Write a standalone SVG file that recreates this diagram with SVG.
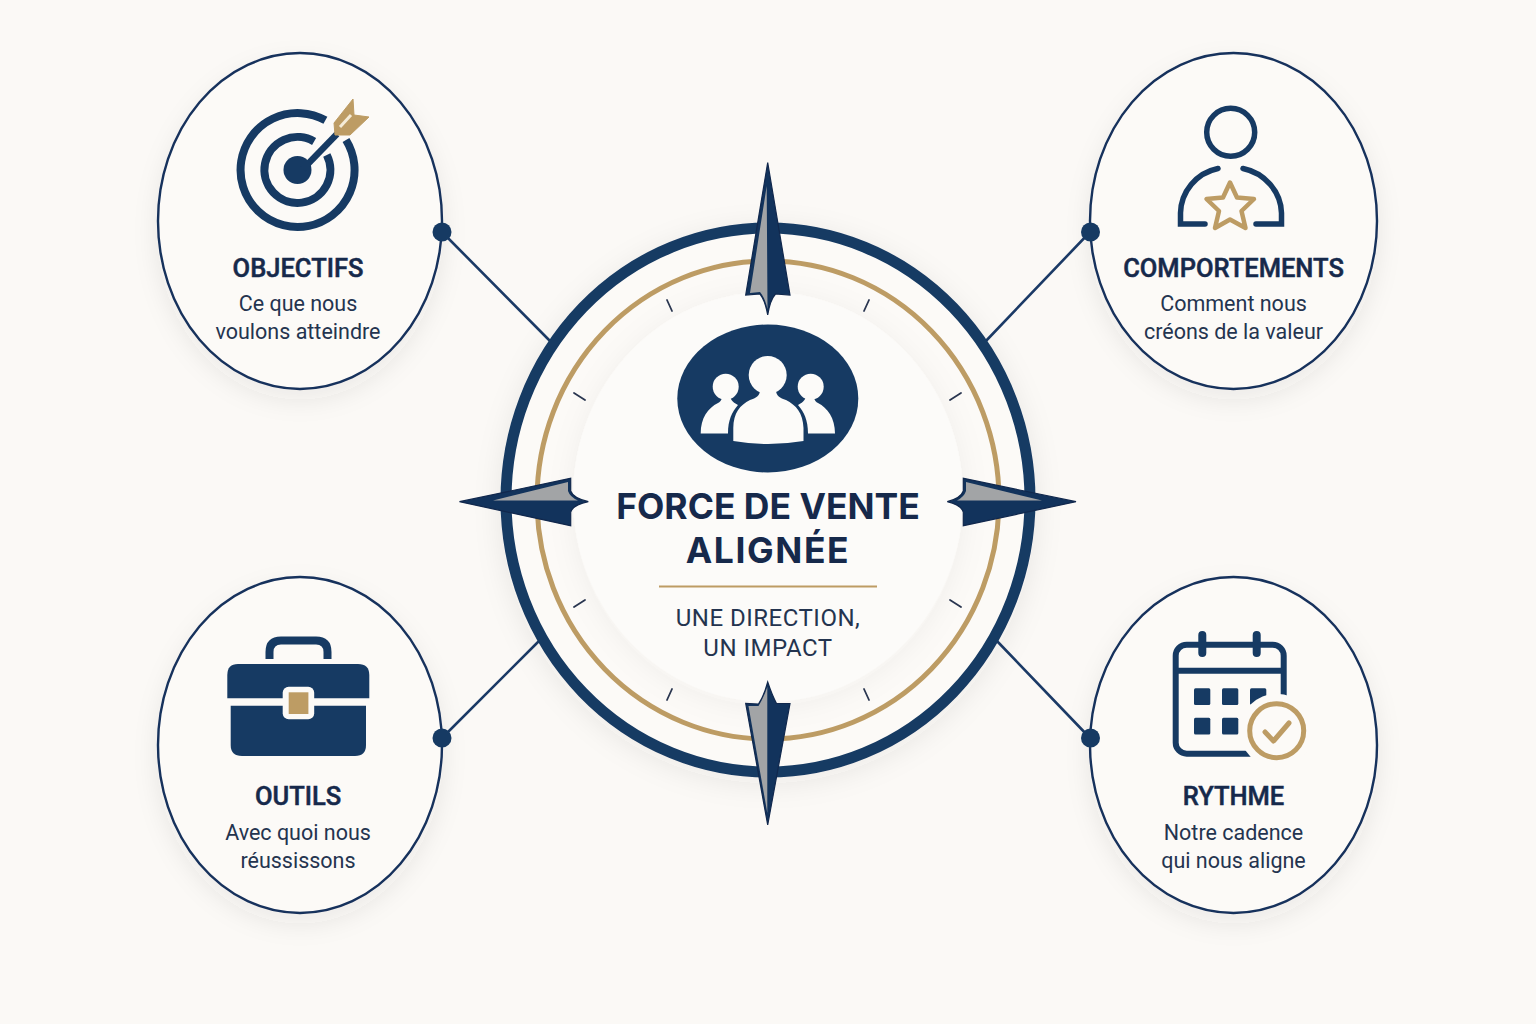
<svg xmlns="http://www.w3.org/2000/svg" width="1536" height="1024" viewBox="0 0 1536 1024">
<style>
text{font-family:Roboto,"Liberation Sans",sans-serif;text-anchor:middle}
.bub{fill:#fcfaf7;stroke:#16305c;stroke-width:2.4;filter:url(#sh)}
.t{font-size:25.5px;font-weight:500;fill:#16294b;stroke:#16294b;stroke-width:.5}
.s{font-size:21.5px;fill:#24344f}
.h{font-family:Inter,Roboto,sans-serif;font-size:35.500px;font-weight:700;fill:#16294b}
.u{font-size:24px;letter-spacing:.5px;fill:#24344f}
.nl{fill:none;stroke:#163a63}
.nf{fill:#163a63}
.go{fill:none;stroke:#bd9c64}
.tick{stroke:#2a3650;stroke-width:1.8;stroke-linecap:round}
.cn{stroke:#1b3a66;stroke-width:2.6;fill:none}
.dot{fill:#163a63}
.dk{fill:#12335c;stroke:#11284d;stroke-width:1.2;stroke-linejoin:miter}
.gr{fill:#a2a4a6}
</style>
<defs>
<filter id="sh" x="-30%" y="-30%" width="160%" height="160%"><feDropShadow dx="0" dy="10" stdDeviation="12" flood-color="#3a3a3a" flood-opacity=".08"/></filter>
<filter id="sh2" x="-30%" y="-30%" width="160%" height="160%"><feDropShadow dx="0" dy="6" stdDeviation="14" flood-color="#3a3a3a" flood-opacity=".08"/></filter>
<filter id="sh3" x="-30%" y="-30%" width="160%" height="160%"><feDropShadow dx="0" dy="4" stdDeviation="14" flood-color="#3a3a3a" flood-opacity=".05"/></filter>
</defs>
<rect width="1536" height="1024" fill="#fbf9f6"/>
<g id="node-objectifs">
<ellipse class="bub" cx="300" cy="221" rx="142" ry="168"/>
<path class="nl" stroke-width="8" d="M325.400 120.300A57 57 0 1 0 346 140"/>
<path class="nl" stroke-width="8" d="M314.100 141.500A33 33 0 1 0 326.800 155"/>
<circle class="nf" cx="297.500" cy="170" r="14"/>
<path d="M303 169L337 134" stroke="#163a63" stroke-width="6.500" fill="none"/>
<path d="M334 123L353 99L354 115L369 117L350 135L335 135Z" fill="#bd9c64" stroke="#bd9c64" stroke-linejoin="round"/>
<path d="M340 127L351 115" stroke="#f5ecd8" stroke-width="3" fill="none"/>
<text class="t" x="298" y="277">OBJECTIFS</text>
<text class="s" x="298" y="311">Ce que nous</text>
<text class="s" x="298" y="339">voulons atteindre</text>
</g>
<g id="node-comportements">
<ellipse class="bub" cx="1233.500" cy="221" rx="143.500" ry="168"/>
<circle class="nl" cx="1230.700" cy="132.300" r="24" stroke-width="5.500"/>
<path class="nl" stroke-width="5.500" stroke-linecap="round" d="M1218 168.500C1196 173 1181 192 1180.500 213V224H1205M1243 168.500C1265 173 1281 192 1281.500 213V224H1256"/>
<path class="go" stroke-width="4.500" stroke-linejoin="round" d="M1230 182.500L1237 197.500L1254 199L1241.500 211L1245.500 228L1230 219.500L1215 228L1219 211L1206.500 199L1223 197.500Z"/>
<text class="t" x="1233.500" y="277">COMPORTEMENTS</text>
<text class="s" x="1233.500" y="311">Comment nous</text>
<text class="s" x="1233.500" y="339">créons de la valeur</text>
</g>
<g id="node-outils">
<ellipse class="bub" cx="300" cy="745" rx="142" ry="168"/>
<path class="nl" stroke-width="8" d="M269.500 659V652Q269.500 640.500 281 640.500H316Q327.500 640.500 327.500 652V659"/>
<path class="nf" d="M227.300 698.300V675Q227.300 664 238 664H358Q369.300 664 369.300 675V698.300Z"/>
<path class="nf" d="M230.700 705.700H366V745Q366 756 355 756H242Q230.700 756 230.700 745Z"/>
<rect x="282.700" y="686.700" width="31.500" height="32.500" rx="6" fill="#fcfaf7"/>
<rect x="288.700" y="692.300" width="19.700" height="21.700" fill="#bd9c64"/>
<text class="t" x="298" y="805">OUTILS</text>
<text class="s" x="298" y="840">Avec quoi nous</text>
<text class="s" x="298" y="868">réussissons</text>
</g>
<g id="node-rythme">
<ellipse class="bub" cx="1233.500" cy="745" rx="143.500" ry="168"/>
<rect class="nl" x="1175.700" y="644.700" width="108" height="109" rx="11" stroke-width="6"/>
<path class="nl" stroke-width="6" d="M1175.700 670.700H1283.700"/>
<path class="nl" stroke-width="8" stroke-linecap="round" d="M1202.300 635V653M1256.700 635V653"/>
<g class="nf">
<rect x="1194" y="688.300" width="16.300" height="16.700" rx="1.500"/><rect x="1222" y="688.300" width="16.300" height="16.700" rx="1.500"/><rect x="1250" y="688.300" width="16.300" height="16.700" rx="1.500"/>
<rect x="1194" y="717.700" width="16.300" height="16.700" rx="1.500"/><rect x="1222" y="717.700" width="16.300" height="16.700" rx="1.500"/>
</g>
<circle cx="1276.700" cy="730.700" r="37" fill="#fcfaf7"/>
<circle class="go" cx="1276.700" cy="730.700" r="27" stroke-width="5"/>
<path class="go" stroke-width="5" stroke-linecap="round" stroke-linejoin="round" d="M1265 732L1273.500 741L1289 723"/>
<text class="t" x="1233.500" y="805">RYTHME</text>
<text class="s" x="1233.500" y="840">Notre cadence</text>
<text class="s" x="1233.500" y="868">qui nous aligne</text>
</g>
<g id="connectors">
<path class="cn" d="M442 232L552 343M1090 232L984 343M442 738L542 638M1090 738L996 640"/>
<circle class="dot" cx="442" cy="232" r="9.500"/><circle class="dot" cx="1090.500" cy="232" r="9.500"/>
<circle class="dot" cx="442" cy="738" r="9.500"/><circle class="dot" cx="1090.500" cy="738" r="9.500"/>
</g>
<g id="node-center">
<ellipse cx="768" cy="500" rx="262" ry="272" fill="#fcfaf7" stroke="#163a63" stroke-width="11" filter="url(#sh2)"/>
<ellipse class="go" cx="768" cy="500" rx="231" ry="239" stroke-width="5"/>
<ellipse cx="768" cy="497" rx="195" ry="205" fill="#fcfbf9" filter="url(#sh3)"/>
<path class="tick" d="M667 300L672 311M869 300L864 311M574 393L585 400M961 393L950 400M574 607L585 600M961 607L950 600M667 700L672 689M869 700L864 689"/>
<ellipse class="nf" cx="767.800" cy="398.500" rx="90.500" ry="74"/>
<g fill="#fcfbf9">
<circle cx="725.700" cy="386.700" r="13"/><circle cx="810.700" cy="386.700" r="13"/>
<path d="M700.700 433.500C700.700 418 708 408 718 403C722 401 722 398 722 394H730C730 399 732 402 738 405C732 412 728 420 728 433.500Z"/>
<path d="M835 433.500C835 418 827.500 408 818 403C814 401 814 398 814 394H806C806 399 804 402 798 405C804 412 808 420 808 433.500Z"/>
<circle cx="767.700" cy="375" r="19"/>
<path d="M733.300 441V428C733.500 413 740 405 750 400C756 398 760 396 760 390H776C776 396 780 398 786 400C796 405 803 413 803.500 428V441Q768 447 733.300 441Z"/>
</g>
<text class="h" x="768" y="519">FORCE DE VENTE</text>
<text class="h" x="768" y="563" letter-spacing="1.600">ALIGNÉE</text>
<path d="M659 586.500H877" stroke="#bd9c64" stroke-width="2.200"/>
<text class="u" x="768" y="626">UNE DIRECTION,</text>
<text class="u" x="768" y="656">UN IMPACT</text>
</g>
<g id="compass-needles">
<path class="dk" d="M767.700 162.500L790 295L775.500 294Q770 300 767.700 315Q765 300 760 294L745.700 295Z"/>
<path class="gr" d="M766.700 186L767.500 309Q765 298 760 292L750 293Z"/>
<path class="dk" d="M767.700 825L790 703.500L776.500 703.500Q772 695 767.700 682Q764 696 758.500 704L745.700 703.500Z"/>
<path class="gr" d="M767.300 813L767.300 687Q764 697 758.500 706L748.500 706Z"/>
<path class="dk" d="M459.500 501.700L570.700 478.300V491Q573 498 588.300 501.700Q573 505 570.700 512V525.700Z"/>
<path class="gr" d="M493 500.500L568 482V491Q570 497 578 500.500Z"/>
<path class="dk" d="M1076 501.700L963.300 478.300V491Q961 498 947.300 501.700Q961 505 963.300 512V525.700Z"/>
<path class="gr" d="M1042 500.500L966 482V491Q964 497 957 500.500Z"/>
</g>
</svg>
